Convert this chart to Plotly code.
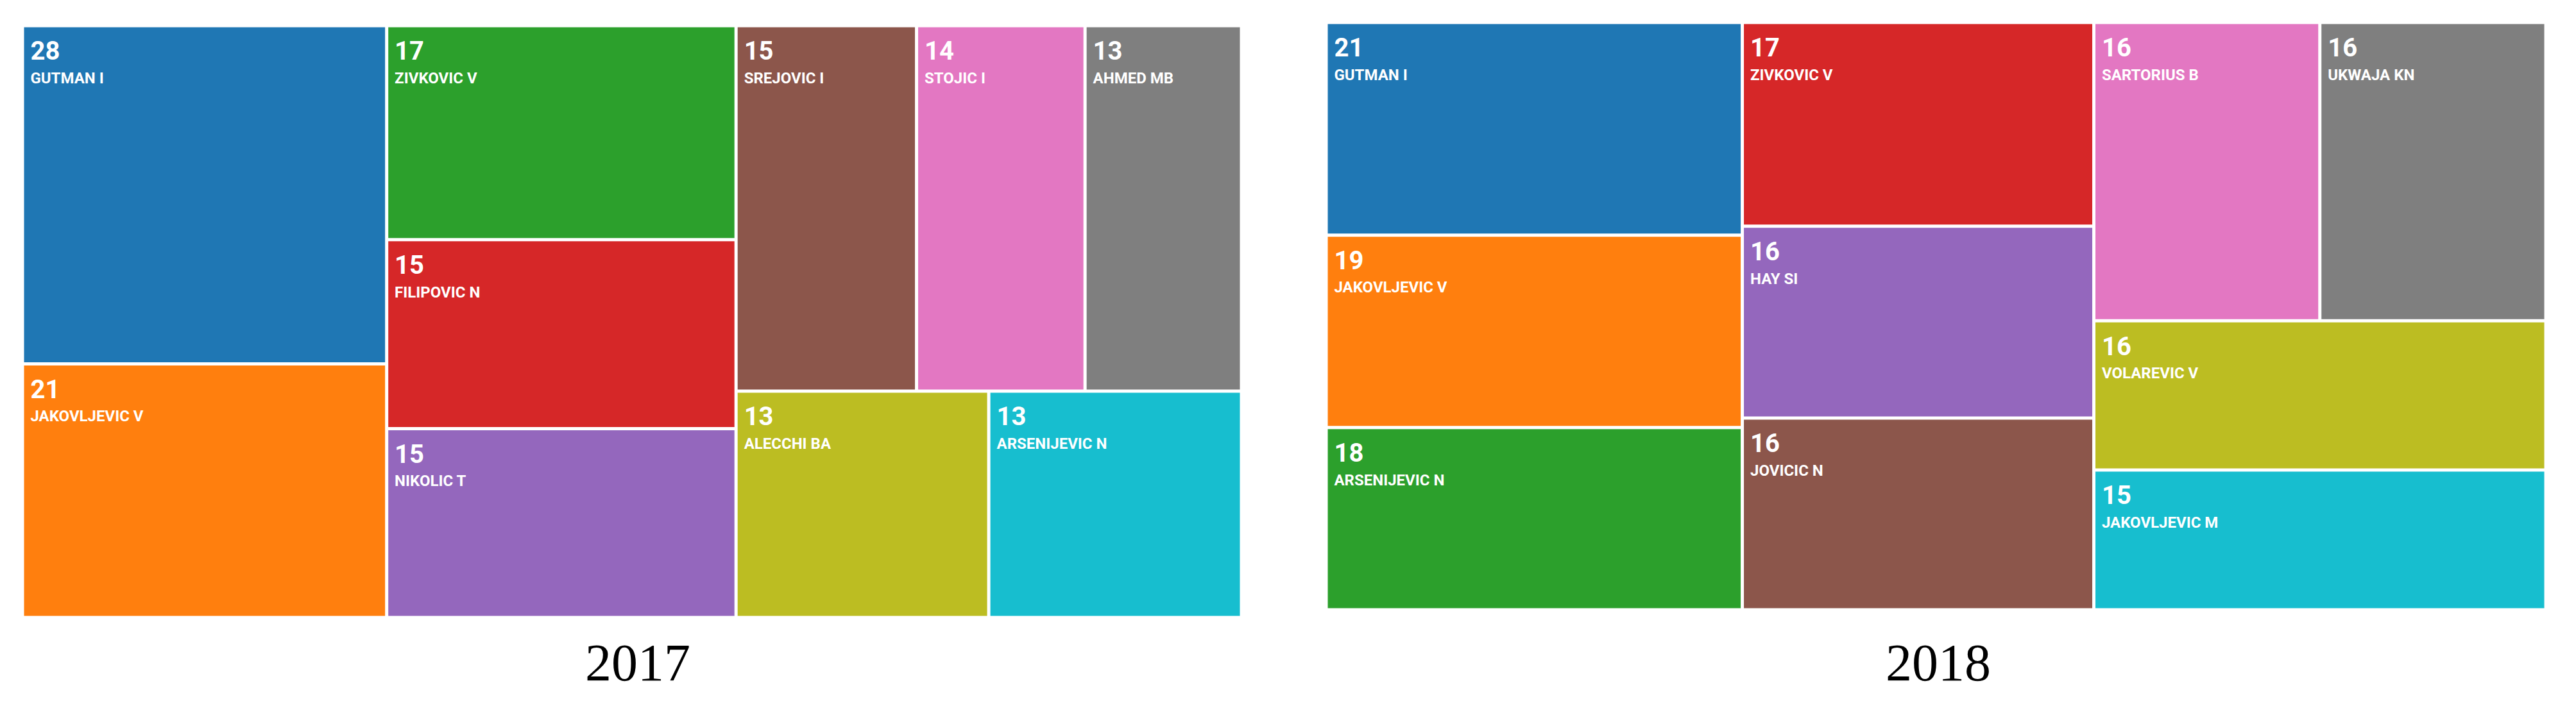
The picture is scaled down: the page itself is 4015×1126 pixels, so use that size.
import plotly.graph_objects as go

authors_2017 = ['GUTMAN I', 'JAKOVLJEVIC V', 'ZIVKOVIC V', 'FILIPOVIC N', 'NIKOLIC T',
                'SREJOVIC I', 'STOJIC I', 'AHMED MB', 'ALECCHI BA', 'ARSENIJEVIC N']
papers_2017 = [28, 21, 17, 15, 15, 15, 14, 13, 13, 13]

authors_2018 = ['GUTMAN I', 'JAKOVLJEVIC V', 'ARSENIJEVIC N', 'ZIVKOVIC V', 'HAY SI',
                'JOVICIC N', 'SARTORIUS B', 'UKWAJA KN', 'VOLAREVIC V', 'JAKOVLJEVIC M']
papers_2018 = [21, 19, 18, 17, 16, 16, 16, 16, 16, 15]

years = ['2017', '2018']

colors = ['#1f77b4', '#ff7f0e', '#2ca02c', '#d62728', '#9467bd',
          '#8c564b', '#e377c2', '#7f7f7f', '#bcbd22', '#17becf']

# page body has an 8px margin, so the figure is made smaller and positions shifted
OFF = 8
W, H = 4015 - 2 * OFF, 1126 - 2 * OFF

# blank small first line pushes the labels down a bit, nbsp indents them
indent = "<span style='font-size:34px'>&nbsp;</span>"
label_tpl = ("<span style='font-size:14px'>&nbsp;</span><br>"
             + indent + "<span style='font-size:40px'><b>%{value}</b></span><br>"
             + indent + "<span style='font-size:24px'><b>%{label}</b></span>")


def px_x(x):
    return (x - OFF) / W


def px_y(y):
    return 1 - (y - OFF) / H


def make_treemap(labels, values, x0, x1, y0, y1):
    return go.Treemap(labels=labels,
                      parents=['' for _ in labels],
                      values=values,
                      sort=True,
                      marker=dict(colors=colors[:len(labels)],
                                  line=dict(color='white', width=3),
                                  pad=dict(t=0, l=0, r=0, b=0)),
                      tiling=dict(packing='squarify', squarifyratio=1.618, pad=2),
                      pathbar=dict(visible=False),
                      texttemplate=label_tpl,
                      textposition='top left',
                      textfont=dict(family='Roboto, Liberation Sans, sans-serif', color='white', size=28),
                      hoverinfo='label+value',
                      domain=dict(x=[px_x(x0), px_x(x1)], y=[px_y(y1), px_y(y0)]))


fig = go.Figure()
fig.add_trace(make_treemap(authors_2017, papers_2017, 36, 1934, 41, 962))
fig.add_trace(make_treemap(authors_2018, papers_2018, 2068, 3967, 36, 950))

for year, xc in zip(years, [994, 3021]):
    fig.add_annotation(x=px_x(xc), y=px_y(1033), xref='paper', yref='paper',
                       xanchor='center', yanchor='middle',
                       text=year, showarrow=False,
                       font=dict(family='Liberation Serif', size=82, color='black'))

fig.update_layout(width=W, height=H,
                  margin=dict(l=0, r=0, t=0, b=0),
                  paper_bgcolor='white',
                  showlegend=False)

fig.write_html("out.html")
